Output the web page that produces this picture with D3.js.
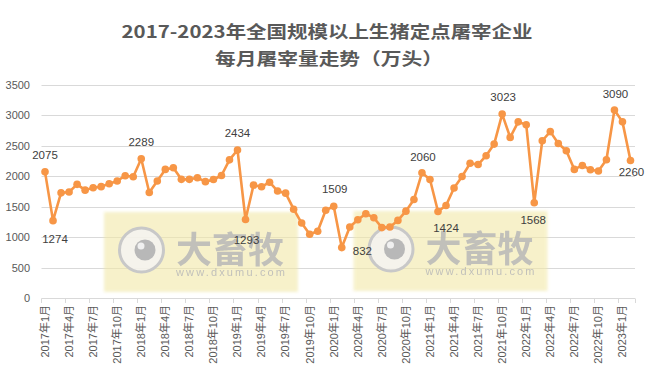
<!DOCTYPE html>
<html><head><meta charset="utf-8">
<script src="https://cdn.jsdelivr.net/npm/d3@7/dist/d3.min.js"></script>
<style>
html,body{margin:0;padding:0;background:#fff;}
svg{display:block;}
</style></head>
<body>
<svg id="c" width="661" height="382"></svg>
<script>
const titleLines = ["2017-2023年全国规模以上生猪定点屠宰企业", "每月屠宰量走势（万头）"];
const categories = [
"2017年1月","2017年2月","2017年3月","2017年4月","2017年5月","2017年6月","2017年7月","2017年8月","2017年9月","2017年10月","2017年11月","2017年12月",
"2018年1月","2018年2月","2018年3月","2018年4月","2018年5月","2018年6月","2018年7月","2018年8月","2018年9月","2018年10月","2018年11月","2018年12月",
"2019年1月","2019年2月","2019年3月","2019年4月","2019年5月","2019年6月","2019年7月","2019年8月","2019年9月","2019年10月","2019年11月","2019年12月",
"2020年1月","2020年2月","2020年3月","2020年4月","2020年5月","2020年6月","2020年7月","2020年8月","2020年9月","2020年10月","2020年11月","2020年12月",
"2021年1月","2021年2月","2021年3月","2021年4月","2021年5月","2021年6月","2021年7月","2021年8月","2021年9月","2021年10月","2021年11月","2021年12月",
"2022年1月","2022年2月","2022年3月","2022年4月","2022年5月","2022年6月","2022年7月","2022年8月","2022年9月","2022年10月","2022年11月","2022年12月",
"2023年1月","2023年2月"];
const values = [
2075,1274,1730,1745,1870,1775,1815,1832,1880,1925,2012,1995,
2289,1735,1925,2115,2142,1952,1952,1978,1914,1950,2015,2272,
2434,1293,1857,1830,1905,1760,1725,1462,1235,1050,1100,1445,
1509,832,1170,1290,1388,1322,1160,1170,1278,1430,1620,2060,
1950,1424,1522,1810,1998,2215,2195,2340,2530,3023,2640,2895,
2848,1568,2585,2735,2540,2420,2115,2180,2110,2088,2273,3090,
2895,2260];
const tickLabels = ["2017年1月","2017年4月","2017年7月","2017年10月","2018年1月","2018年4月","2018年7月","2018年10月",
"2019年1月","2019年4月","2019年7月","2019年10月","2020年1月","2020年4月","2020年7月","2020年10月",
"2021年1月","2021年4月","2021年7月","2021年10月","2022年1月","2022年4月","2022年7月","2022年10月","2023年1月"];
const yTicks = [0,500,1000,1500,2000,2500,3000,3500];
const labelledCategories = ["2017年1月","2017年2月","2018年1月","2019年1月","2019年2月","2020年1月","2020年2月",
"2020年12月","2021年2月","2021年10月","2022年2月","2022年12月","2023年2月"];
const watermarkText = ["大畜牧","www.dxumu.com"];

// placement of data labels (style, not data)
const labelPlacement = {
 "2017年1月":[0,-13],"2017年2月":[2,22],"2018年1月":[0,-13],"2019年1月":[0,-13],"2019年2月":[1,24],
 "2020年1月":[1,-13],"2020年2月":[11,7],"2020年12月":[1,-12],"2021年2月":[8,20],"2021年10月":[1,-13],
 "2022年2月":[-1,21],"2022年12月":[1,-12],"2023年2月":[1,15]
};

const svg = d3.select("#c");
const orange = "#F79646";
const grid = "#d9d9d9";
const txt = "#595959";
const latin = "'Liberation Sans','Noto Sans CJK SC',sans-serif";

// title
svg.append("text").attr("x",121.5).attr("y",38).attr("font-family","'Noto Sans CJK SC',sans-serif")
  .attr("font-weight","bold").attr("font-size",17).attr("fill",txt)
  .attr("textLength",411).attr("lengthAdjust","spacingAndGlyphs").text(titleLines[0]);
svg.append("text").attr("x",215).attr("y",65).attr("font-family","'Noto Sans CJK SC',sans-serif")
  .attr("font-weight","bold").attr("font-size",17).attr("fill",txt)
  .attr("textLength",228).attr("lengthAdjust","spacingAndGlyphs").text(titleLines[1]);

const x = d3.scaleBand().domain(categories).range([41, 634.5]);
const y = d3.scaleLinear().domain([0,3500]).range([298.3, 85]);
const cx = c => x(c) + x.bandwidth()/2;

// gridlines
svg.append("g").selectAll("line").data(yTicks).join("line")
  .attr("x1",41.5).attr("x2",635).attr("y1",d=>Math.round(y(d))+0.5).attr("y2",d=>Math.round(y(d))+0.5)
  .attr("stroke",grid).attr("stroke-width",1);
// y labels
svg.append("g").selectAll("text").data(yTicks).join("text")
  .attr("x",30).attr("y",d=>y(d)).attr("dy","0.35em").attr("text-anchor","end")
  .attr("font-family",latin).attr("font-size",11).attr("fill",txt).text(d=>d);

// x ticks
svg.append("g").selectAll("line").data(tickLabels).join("line")
  .attr("x1",d=>Math.round(x(d))+0.5).attr("x2",d=>Math.round(x(d))+0.5)
  .attr("y1",298.5).attr("y2",303).attr("stroke",grid);
svg.append("line").attr("x1",Math.round(x(categories[categories.length-1])+x.bandwidth())+0.5)
  .attr("x2",Math.round(x(categories[categories.length-1])+x.bandwidth())+0.5).attr("y1",298.5).attr("y2",303).attr("stroke",grid);
// x labels
svg.append("g").selectAll("text").data(tickLabels).join("text")
  .attr("transform",d=>`translate(${cx(d)},305) rotate(-90)`)
  .attr("text-anchor","end").attr("dy","0.35em")
  .attr("font-family",latin).attr("font-size",11).attr("fill",txt).text(d=>d);

// watermarks (beneath the line, gridlines show through)
const defs = svg.append("defs");
defs.append("filter").attr("id","blur").append("feGaussianBlur").attr("stdDeviation",1.5);
function watermark(x0,y0){
  const g = svg.append("g").attr("transform",`translate(${x0},${y0})`);
  g.append("rect").attr("width",194).attr("height",80).attr("fill","#F2E9A8").attr("opacity",0.6).attr("filter","url(#blur)");
  g.append("circle").attr("cx",37.5).attr("cy",38).attr("r",22).attr("fill","#f4f4f4").attr("fill-opacity",0.8)
    .attr("stroke","#c8c8c8").attr("stroke-width",3);
  g.append("circle").attr("cx",41).attr("cy",38).attr("r",10.5).attr("fill","#b8b8b8");
  g.append("circle").attr("cx",37).attr("cy",34).attr("r",3.5).attr("fill","#f0f0f0");
  g.append("text").attr("x",72).attr("y",51).attr("font-family","'Noto Sans CJK SC',sans-serif").attr("font-weight","bold")
    .attr("font-size",36).attr("fill","#b8b8b8").attr("opacity",0.85).attr("textLength",108).attr("lengthAdjust","spacingAndGlyphs").text(watermarkText[0]);
  g.append("text").attr("x",72).attr("y",64).attr("font-family",latin)
    .attr("font-size",11).attr("fill","#b8b8b8").attr("opacity",0.85).attr("textLength",109).attr("lengthAdjust","spacing").text(watermarkText[1]);
}
watermark(104,212);
watermark(353.5,211);

// line
const line = d3.line().x((d,i)=>cx(categories[i])).y(d=>y(d));
svg.append("path").datum(values).attr("d",line).attr("fill","none")
  .attr("stroke",orange).attr("stroke-width",2.6).attr("stroke-linejoin","round");
svg.append("g").selectAll("circle").data(values).join("circle")
  .attr("cx",(d,i)=>cx(categories[i])).attr("cy",d=>y(d)).attr("r",3.8).attr("fill",orange);

// data labels
svg.append("g").selectAll("text").data(labelledCategories).join("text")
  .attr("x",c=>cx(c)+labelPlacement[c][0]).attr("y",c=>y(values[categories.indexOf(c)])+labelPlacement[c][1])
  .attr("text-anchor",c=>c==="2020年2月"?"start":"middle")
  .attr("font-family",latin).attr("font-size",11.5).attr("fill","#404040")
  .text(c=>values[categories.indexOf(c)]);
</script>
</body></html>
